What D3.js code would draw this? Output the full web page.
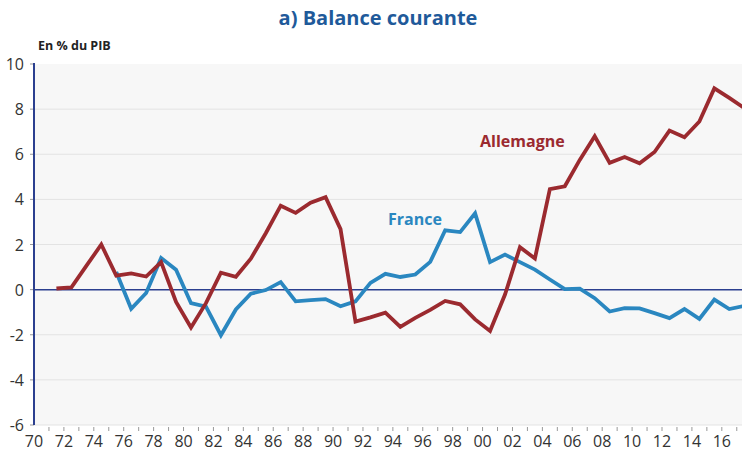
<!doctype html>
<html>
<head>
    <script src="https://d3js.org/d3.v7.min.js"></script>
    <style>
      body { margin: 0; background: #fff; }
      text { font-family: "Open Sans", sans-serif; }
    </style>
</head>
<body>
    <svg id="chart" width="742" height="451"></svg>
    <script>
        // Current account balance, % of GDP
        const years = d3.range(1971, 2018);
        const allemagne = [0.05, 0.1, 1.05, 2.0, 0.62, 0.72, 0.58, 1.22, -0.55, -1.68,
          -0.6, 0.75, 0.57, 1.37, 2.5, 3.72, 3.4, 3.85, 4.1, 2.68,
          -1.42, -1.23, -1.02, -1.65, -1.25, -0.9, -0.5, -0.65, -1.32, -1.83,
          -0.22, 1.88, 1.38, 4.45, 4.58, 5.75, 6.8, 5.62, 5.88, 5.6,
          6.1, 7.05, 6.75, 7.45, 8.92, 8.5, 8.05];
        const france = [null, null, null, null, 0.78, -0.85, -0.15, 1.4, 0.88, -0.6,
          -0.75, -2.02, -0.88, -0.18, -0.02, 0.33, -0.52, -0.47, -0.42, -0.74,
          -0.52, 0.3, 0.7, 0.56, 0.67, 1.23, 2.63, 2.55, 3.38, 1.22,
          1.55, 1.22, 0.89, 0.45, 0.02, 0.04, -0.38, -0.97, -0.82, -0.83,
          -1.04, -1.26, -0.86, -1.3, -0.44, -0.86, -0.72];
        const yTicks = [-6, -4, -2, 0, 2, 4, 6, 8, 10];
        const xLabels = d3.range(1970, 2018, 2);

        const red = "#9b2a2f";
        const blue = "#2a87c0";
        const navy = "#2b3f8f";

        const svg = d3.select("#chart");
        const plotL = 34, plotR = 742, plotT = 64, plotB = 425;

        const x = d3.scaleLinear()
          .domain([1970, 2017.35])
          .range([plotL, plotR]);
        const y = d3.scaleLinear()
          .domain([-6, 10])
          .range([plotB, plotT]);

        // title
        svg.append("text")
          .attr("x", 378).attr("y", 25)
          .attr("text-anchor", "middle")
          .attr("font-size", 20).attr("font-weight", "bold")
          .attr("fill", "#1f5a9a")
          .text("a) Balance courante");

        svg.append("text")
          .attr("x", 38).attr("y", 50)
          .attr("font-size", 12.5).attr("font-weight", "bold")
          .attr("fill", "#222")
          .text("En % du PIB");

        // plot background
        svg.append("rect")
          .attr("x", plotL).attr("y", plotT)
          .attr("width", plotR - plotL).attr("height", plotB - plotT)
          .attr("fill", "#f7f7f7");

        // gridlines
        svg.append("g")
          .selectAll("line")
          .data(yTicks.filter(d => d !== 0 && d !== 10))
          .join("line")
          .attr("x1", plotL).attr("x2", plotR)
          .attr("y1", d => y(d)).attr("y2", d => y(d))
          .attr("stroke", "#e3e3e3").attr("stroke-width", 1);

        // y axis labels
        svg.append("g")
          .selectAll("text")
          .data(yTicks)
          .join("text")
          .attr("x", 24).attr("y", d => y(d) + 6)
          .attr("text-anchor", "end")
          .attr("font-size", 16).attr("fill", "#333")
          .text(d => d);

        svg.append("g")
          .selectAll("line")
          .data(yTicks)
          .join("line")
          .attr("x1", plotL - 4).attr("x2", plotL)
          .attr("y1", d => y(d)).attr("y2", d => y(d))
          .attr("stroke", "#999");

        // x axis ticks and labels
        svg.append("g")
          .selectAll("line")
          .data(years)
          .join("line")
          .attr("x1", d => x(d)).attr("x2", d => x(d))
          .attr("y1", plotB + 2).attr("y2", plotB + 6)
          .attr("stroke", "#999");

        svg.append("g")
          .selectAll("text")
          .data(xLabels)
          .join("text")
          .attr("x", d => x(d)).attr("y", 447)
          .attr("text-anchor", "middle")
          .attr("font-size", 16).attr("fill", "#333")
          .text(d => String(d % 100).padStart(2, "0"));

        // zero line and left axis
        svg.append("line")
          .attr("x1", plotL).attr("x2", plotR)
          .attr("y1", y(0)).attr("y2", y(0))
          .attr("stroke", navy).attr("stroke-width", 1.5);
        svg.append("line")
          .attr("x1", plotL).attr("x2", plotL)
          .attr("y1", plotT - 1).attr("y2", plotB)
          .attr("stroke", navy).attr("stroke-width", 2);

        svg.append("clipPath").attr("id", "clip")
          .append("rect")
          .attr("x", plotL).attr("y", 0)
          .attr("width", plotR - plotL).attr("height", 451);

        const line = d3.line()
          .defined(d => d[1] !== null)
          .x(d => x(d[0] + 0.5))
          .y(d => y(d[1]));

        const g = svg.append("g").attr("clip-path", "url(#clip)");

        g.append("path")
          .datum(years.map((yr, i) => [yr, france[i]]))
          .attr("fill", "none")
          .attr("stroke", blue)
          .attr("stroke-width", 3.8)
          .attr("d", line);

        g.append("path")
          .datum(years.map((yr, i) => [yr, allemagne[i]]))
          .attr("fill", "none")
          .attr("stroke", red)
          .attr("stroke-width", 3.8)
          .attr("d", line);

        // series labels
        svg.append("text")
          .attr("x", 415).attr("y", 225)
          .attr("text-anchor", "middle")
          .attr("font-size", 16).attr("font-weight", "bold")
          .attr("fill", blue)
          .text("France");

        svg.append("text")
          .attr("x", 480).attr("y", 147)
          .attr("font-size", 16).attr("font-weight", "bold")
          .attr("fill", red)
          .text("Allemagne");
    </script>
</body>
</html>
